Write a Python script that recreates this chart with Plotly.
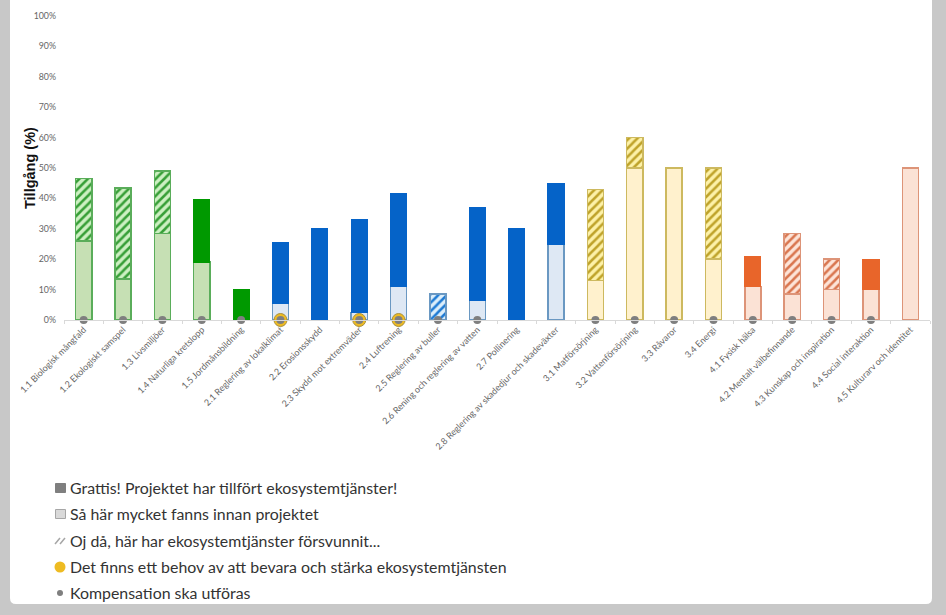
import plotly.graph_objects as go

W, H = 946, 615
LEFT, RIGHT, TOP, BOTTOM = 64, 930, 16, 320

categories = [
    "1.1 Biologisk mångfald", "1.2 Ekologiskt samspel", "1.3 Livsmiljöer",
    "1.4 Naturliga kretslopp", "1.5 Jordmånsbildning", "2.1 Reglering av lokalklimat",
    "2.2 Erosionsskydd", "2.3 Skydd mot extremväder", "2.4 Luftrening",
    "2.5 Reglering av buller", "2.6 Rening och reglering av vatten", "2.7 Pollinering",
    "2.8 Reglering av skadedjur och skadeväxter", "3.1 Matförsörjning",
    "3.2 Vattenförsörjning", "3.3 Råvaror", "3.4 Energi", "4.1 Fysisk hälsa",
    "4.2 Mentalt välbefinnande", "4.3 Kunskap och inspiration",
    "4.4 Social interaktion", "4.5 Kulturarv och identitet",
]
before = [26, 13.5, 28.5, 19, None, 5.5, None, 2.5, 11, None, 6.5, None, 25, 13, 50, 50, 20, 11, 8.5, 10, 10, 50]
gained = [None, None, None, 20.5, 10, 20, 30, 30.5, 30.5, None, 30.5, 30, 20, None, None, None, None, 10, None, None, 10, None]
lost = [20.5, 30, 20.5, None, None, None, None, None, None, 8.5, None, None, None, 30, 10, None, 30, None, 20, 10, None, None]

strong = ["#009900"] * 5 + ["#0563c8"] * 8 + ["#c4ab35"] * 4 + ["#e8652a"] * 5
pale = ["#c6e0b4"] * 5 + ["#dee8f4"] * 8 + ["#fff1cd"] * 4 + ["#fbe2d5"] * 5
edge = ["#5aad5a"] * 5 + ["#6a98c2"] * 8 + ["#cdb95f"] * 4 + ["#dd9478"] * 5

# one hatched trace per theme: start, end, stripe colour, stripe background
hatch_groups = [
    (0, 5, "#379f37", "#cdf0c2"),
    (5, 13, "#1f7bd4", "#dceefa"),
    (13, 17, "#bfa32a", "#fdf1a8"),
    (17, 22, "#d9764f", "#fde4d8"),
]

need_idx = [5, 7, 8]
comp_idx = [0, 1, 2, 3, 4, 5, 7, 8, 9, 10, 13, 14, 15, 16, 17, 18, 19, 20]

legend_labels = [
    "Grattis! Projektet har tillfört ekosystemtjänster!",
    "Så här mycket fanns innan projektet",
    "Oj då, här har ekosystemtjänster försvunnit...",
    "Det finns ett behov av att bevara och stärka ekosystemtjänsten",
    "Kompensation ska utföras",
]
legend_y = [488, 514, 541, 567, 593]


def px(x):
    return (x - LEFT) / (RIGHT - LEFT)


def py(y):
    return (BOTTOM - y) / (BOTTOM - TOP)


fig = go.Figure()
fig.add_bar(x=categories, y=before, marker=dict(color=pale, line=dict(color=edge, width=1.5)))
fig.add_bar(x=categories, y=gained, marker=dict(color=strong, line=dict(color=strong, width=1)))
for start, end, fg, bg in hatch_groups:
    fig.add_bar(
        x=categories[start:end], y=lost[start:end],
        marker=dict(
            color=bg,
            line=dict(color=edge[start], width=1.5),
            pattern=dict(shape="/", fgcolor=fg, bgcolor=bg, fgopacity=1, size=6, solidity=0.42),
        ),
    )
fig.add_scatter(
    x=[categories[i] for i in need_idx], y=[0] * len(need_idx), mode="markers", cliponaxis=False,
    marker=dict(color="#eebb22", size=13, line=dict(color="#a88f3a", width=1)),
)
fig.add_scatter(
    x=[categories[i] for i in comp_idx], y=[0] * len(comp_idx), mode="markers", cliponaxis=False,
    marker=dict(color="#7f7f7f", size=8),
)

# grey frame around the white sheet
frame = (
    f"M {px(10)} {py(-5)} L {px(932)} {py(-5)} L {px(932)} {py(598)} "
    f"Q {px(932)} {py(604)} {px(926)} {py(604)} L {px(16)} {py(604)} "
    f"Q {px(10)} {py(604)} {px(10)} {py(598)} Z"
)
shapes = [dict(type="path", xref="paper", yref="paper", path=frame, fillcolor="white", line_width=0, layer="below")]


def swatch(x0, y0, x1, y1, fill, line):
    shapes.append(dict(
        type="rect", xref="paper", yref="paper", x0=px(x0), y0=py(y0), x1=px(x1), y1=py(y1),
        fillcolor=fill, line=dict(color=line, width=1),
    ))


def circle(x0, y0, x1, y1, fill):
    shapes.append(dict(
        type="circle", xref="paper", yref="paper", x0=px(x0), y0=py(y0), x1=px(x1), y1=py(y1),
        fillcolor=fill, line_width=0,
    ))


swatch(55.5, legend_y[0] - 4.5, 65.5, legend_y[0] + 4.5, "#7f7f7f", "#7f7f7f")
swatch(55.5, legend_y[1] - 4.5, 65.5, legend_y[1] + 4.5, "#d9d9d9", "#a6a6a6")
for off in (-2.5, 2.5):
    shapes.append(dict(
        type="line", xref="paper", yref="paper", x0=px(57.5 + off), y0=py(legend_y[2] + 3),
        x1=px(62.5 + off), y1=py(legend_y[2] - 3), line=dict(color="#a6a6a6", width=1.5),
    ))
circle(54.5, legend_y[3] - 5.5, 65.5, legend_y[3] + 5.5, "#eebb22")
circle(57, legend_y[4] - 3, 63, legend_y[4] + 3, "#7f7f7f")

annotations = [
    dict(
        text=label, xref="paper", yref="paper", x=px(67.5), y=py(y - 1), xanchor="left", yanchor="middle",
        showarrow=False, font=dict(size=15.9, color="#333333", family="Lato"),
    )
    for label, y in zip(legend_labels, legend_y)
]
annotations.append(dict(
    text="<b>Tillgång (%)</b>", xref="paper", yref="paper", x=px(30), y=py(168), textangle=-90,
    xanchor="center", yanchor="middle", showarrow=False,
    font=dict(size=14.5, color="#111111", family="Liberation Sans"),
))

fig.update_layout(
    width=W, height=H, barmode="stack", bargap=0.59, showlegend=False,
    paper_bgcolor="#c8c8c8", plot_bgcolor="rgba(0,0,0,0)",
    margin=dict(l=LEFT, r=W - RIGHT, t=TOP, b=H - BOTTOM, pad=0),
    font=dict(family="Lato", color="#6b6b6b"), shapes=shapes, annotations=annotations,
)
fig.update_xaxes(
    type="category", categoryorder="array", categoryarray=categories, range=[-0.5, 21.5],
    tickangle=-45, tickfont=dict(size=9, color="#666666"),
    showgrid=False, showline=True, linecolor="#d9d9d9", ticks="outside", ticklen=3,
    tickcolor="#d9d9d9", automargin=False, tickson="boundaries",
)
fig.update_yaxes(
    range=[0, 100], dtick=10, ticksuffix="%", tickfont=dict(size=8.8, color="#666666"),
    showgrid=False, zeroline=False, showline=False, automargin=False, ticklabelstandoff=7,
)

fig.write_html(
    "out.html",
    config=dict(displayModeBar=False),
    post_script="document.body.style.margin = '0';",
)
